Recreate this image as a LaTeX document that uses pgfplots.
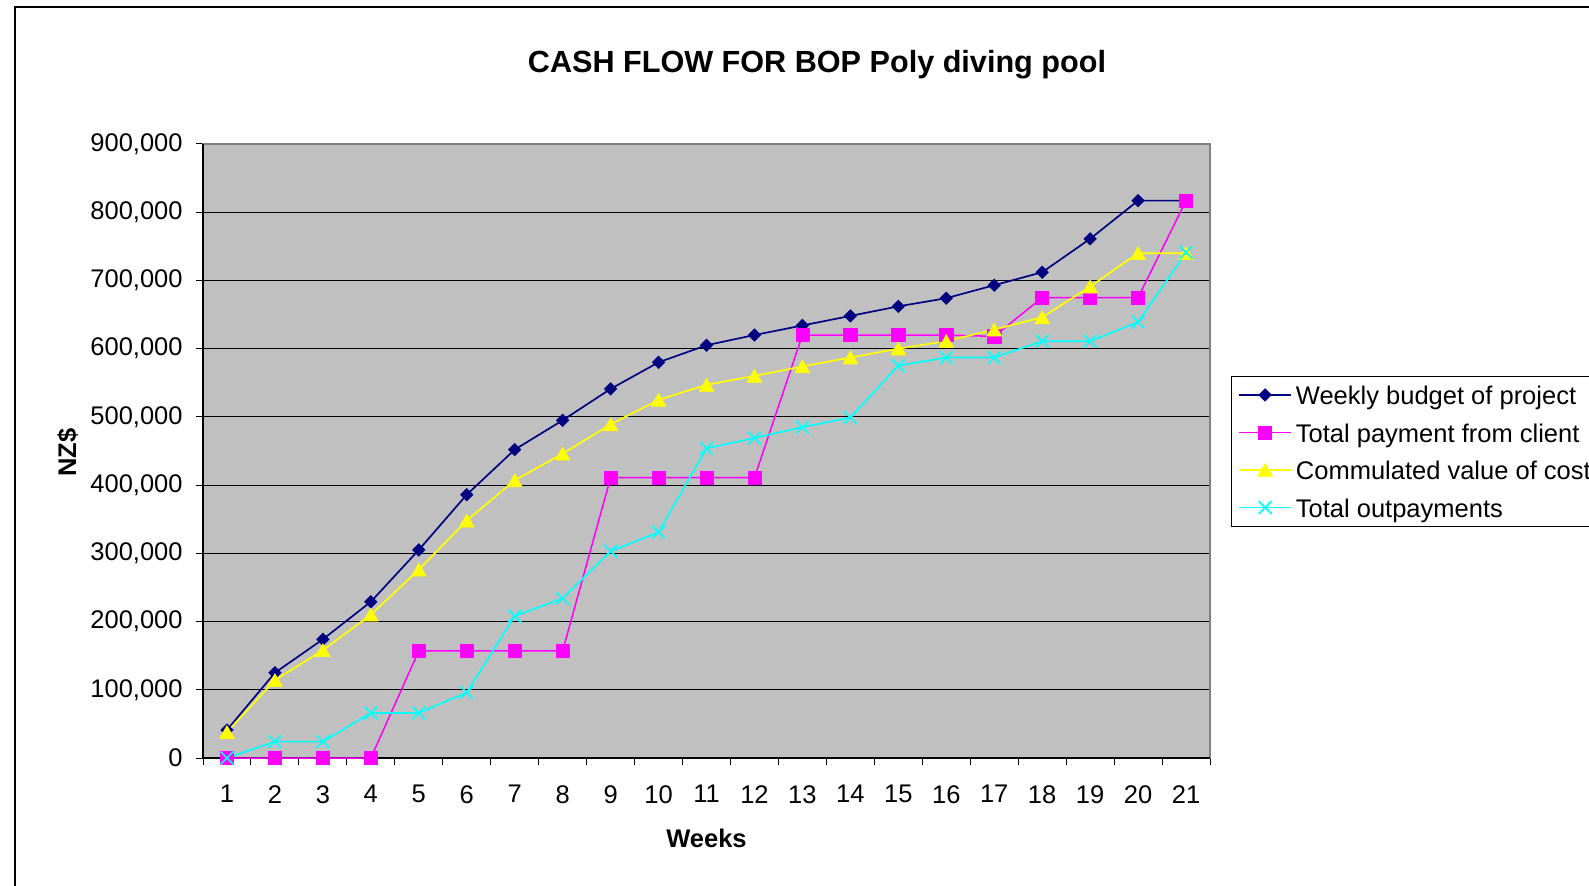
\documentclass[border=0pt]{standalone}
\usepackage{fontspec}
\setmainfont{Liberation Sans}
\usepackage{pgfplots}
\pgfplotsset{compat=1.18}
\usepackage{pgfplotstable}
\definecolor{navyc}{HTML}{000080}
\definecolor{magc}{HTML}{FF00FF}
\definecolor{yelc}{HTML}{FFFF00}
\definecolor{cync}{HTML}{00FFFF}
\definecolor{plotgray}{HTML}{C0C0C0}
\definecolor{bordergray}{HTML}{808080}
\newcommand\lbl{\fontsize{12.75}{15}\selectfont}

\pgfplotstableread{
week budget client cost outpay
1 41000 0 38000 0
2 125000 0 114000 24000
3 174000 0 158000 24000
4 229000 0 210000 66000
5 305000 157000 276000 66000
6 386000 157000 348000 96000
7 452000 157000 407000 208000
8 495000 157000 446000 234000
9 541000 411000 489000 303000
10 580000 411000 525000 331000
11 605000 411000 547000 454000
12 620000 411000 560000 469000
13 634000 620000 574000 485000
14 648000 620000 587000 499000
15 662000 620000 600000 575000
16 674000 620000 611000 587000
17 693000 618000 628000 587000
18 712000 675000 646000 611000
19 761000 675000 691000 611000
20 817000 675000 740000 639000
21 817000 817000 740000 741000
}\cashdata

\begin{document}
\begin{tikzpicture}
\useasboundingbox (0,0) rectangle (794.5pt,442.5pt);
\begin{scope}
\clip (0,0) rectangle (794.5pt,442.5pt);
\fill[white] (0,0) rectangle (794.5pt,442.5pt);
\draw[line width=0.6pt] (7.5pt,-5pt) -- (7.5pt,439pt) -- (800pt,439pt);
\begin{axis}[
  at={(101.5pt,63.5pt)}, anchor=south west,
  scale only axis, width=503.5pt, height=307pt,
  xmin=0.5, xmax=21.5, ymin=0, ymax=900000,
  clip=false,
  axis background/.style={fill=plotgray},
  axis line style={draw=bordergray, line width=1pt},
  xtick={1,2,3,4,5,6,7,8,9,10,11,12,13,14,15,16,17,18,19,20,21},
  minor xtick={0.5,1.5,2.5,3.5,4.5,5.5,6.5,7.5,8.5,9.5,10.5,11.5,12.5,13.5,14.5,15.5,16.5,17.5,18.5,19.5,20.5,21.5},
  ytick={0,100000,200000,300000,400000,500000,600000,700000,800000,900000},
  ytick pos=left, xtick pos=bottom,
  tick align=outside,
  major tick length=3.5pt, minor tick length=3.5pt,
  tick style={black, line width=0.5pt},
  major x tick style={draw=none},
  ymajorgrids, grid style={black, line width=0.5pt},
  scaled y ticks=false,
  /pgf/number format/.cd, fixed, precision=0, 1000 sep={,}, assume math mode=true, /pgfplots/.cd,
  ticklabel style={font=\lbl},
  yticklabel style={inner sep=0pt, xshift=-6.5pt},
  xticklabel style={inner sep=0pt, yshift=-10pt},
  title={CASH FLOW FOR BOP Poly diving pool},
  title style={at={(axis description cs:0.6097,1.0975)}, anchor=base, inner sep=0pt, font=\fontsize{15.3}{18}\selectfont\bfseries},
  xlabel={Weeks},
  xlabel style={at={(axis description cs:0.5,-0.1450)}, anchor=base, inner sep=0pt, font=\lbl\bfseries},
  ylabel={NZ\$},
  ylabel style={at={(axis description cs:-0.1261,0.4976)}, anchor=base, inner sep=0pt, font=\lbl\bfseries},
  legend style={at={(1.0206,0.6226)}, anchor=north west, draw=black, line width=0.5pt, fill=white,
    inner xsep=3.5pt, inner ysep=0pt, font=\lbl, cells={anchor=west},
    nodes={inner sep=0pt, text height=14.2pt, text depth=4.55pt}, row sep=0pt},
  legend cell align=left,
  legend image code/.code={\draw[mark repeat=2,mark phase=2] plot coordinates {(0pt,0pt)(13pt,0pt)(26pt,0pt)}; \path (28pt,0pt);},
]
\draw[black, line width=0.6pt] (rel axis cs:0,1) -- (rel axis cs:0,0) -- (rel axis cs:1,0);
\addplot[navyc, line width=0.85pt, mark=square*, mark size=2.2pt, mark options={rotate=45, solid, fill=navyc, line width=0.3pt}] table[x=week,y=budget]{\cashdata};
\addlegendentry{Weekly budget of project}
\addplot[magc, line width=0.75pt, mark=square*, mark size=3.3pt, mark options={solid, fill=magc, line width=0.3pt}] table[x=week,y=client]{\cashdata};
\addlegendentry{Total payment from client}
\addplot[yelc, line width=0.85pt, mark=triangle*, mark size=4.3pt, mark options={solid, yshift=-1.07pt, fill=yelc, line width=0.3pt}] table[x=week,y=cost]{\cashdata};
\addlegendentry{Commulated value of cost}
\addplot[cync, line width=0.85pt, mark=x, mark size=4.5pt, mark options={solid, line width=0.85pt}] table[x=week,y=outpay]{\cashdata};
\addlegendentry{Total outpayments}
\end{axis}
\end{scope}
\end{tikzpicture}
\end{document}
